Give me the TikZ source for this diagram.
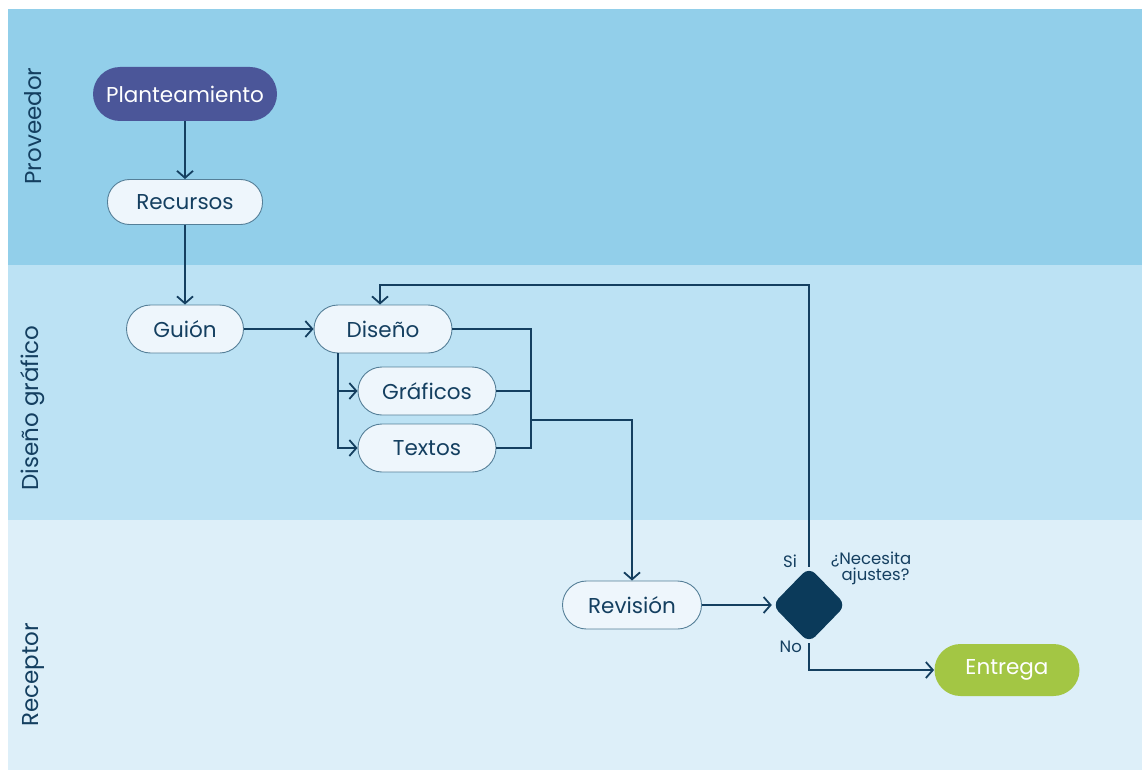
\documentclass[tikz,border=0pt]{standalone}
\usepackage{fontspec}
\setmainfont{Poppins}
\usetikzlibrary{arrows.meta,shapes.geometric,calc}
\definecolor{laneA}{HTML}{92CFEA}
\definecolor{laneB}{HTML}{BCE2F4}
\definecolor{laneC}{HTML}{DDEFF9}
\definecolor{ink}{HTML}{143F60}
\definecolor{boxfill}{HTML}{EEF6FC}
\definecolor{boxline}{HTML}{557F98}
\definecolor{startfill}{HTML}{4B5699}
\definecolor{endfill}{HTML}{A3C644}
\definecolor{decfill}{HTML}{0B3A5A}
\tikzset{
  lanelabel/.style={rotate=90, text=ink, font=\fontsize{23}{26}\selectfont},
  task/.style={draw=boxline, line width=0.9pt, fill=boxfill, text=ink,
    rounded corners=24pt, inner sep=0pt, minimum height=48pt,
    font=\fontsize{21.5}{24}\selectfont},
  terminal/.style={task, draw=none, text=white, rounded corners=27pt, minimum height=54pt},
  flow/.style={draw=ink, line width=1.8pt, -{Straight Barb[length=7pt,width=16pt,line width=1.8pt]}},
  link/.style={draw=ink, line width=1.8pt},
  small/.style={text=ink, font=\fontsize{16.5}{18}\selectfont, inner sep=0pt},
}
\begin{document}
\begin{tikzpicture}[x=1pt,y=-1pt]
  \useasboundingbox (0,0) rectangle (1142,770);
  \fill[white] (0,0) rectangle (1142,770);
  % swim lanes
  \fill[laneA] (8,9) rectangle (1142,265);
  \fill[laneB] (8,265) rectangle (1142,520);
  \fill[laneC] (8,520) rectangle (1142,770);
  \node[lanelabel] (l1) at (33,126) {Proveedor};
  \node[lanelabel] (l2) at (33,408) {Diseño gráfico};
  \node[lanelabel] (l3) at (33,675) {Receptor};

  % activities
  \node[terminal, fill=startfill, minimum width=184pt] (plan) at (185,94) {Planteamiento};
  \node[task, minimum width=155pt, minimum height=45pt, rounded corners=22pt] (rec) at (185,202) {Recursos};
  \node[task, minimum width=117pt] (guion) at (185,329) {Guión};
  \node[task, minimum width=138pt] (dis) at (383,329) {Diseño};
  \node[task, minimum width=138pt] (graf) at (427,391) {Gráficos};
  \node[task, minimum width=138pt] (text) at (427,448) {Textos};
  \node[task, minimum width=139pt] (rev) at (632,605) {Revisión};
  \node[diamond, fill=decfill, rounded corners=9pt, inner sep=0pt,
        minimum width=74pt, minimum height=76pt] (dec) at (809,605) {};
  \node[terminal, fill=endfill, minimum width=145pt, minimum height=52pt, rounded corners=26pt] (ent) at (1007,670) {Entrega};

  % decision labels
  \node[small, anchor=east] (si) at (797,561) {Si};
  \node[small, anchor=east] (no) at (802,647) {No};
  \node[small, align=center] (q) at (871,568) {¿Necesita\\[-2pt]\hspace*{9pt}ajustes?};

  % helper points
  \coordinate (split) at (338,0);
  \coordinate (merge) at (531,420);
  \coordinate (back) at (809,285);

  % connectors
  \draw[flow] (plan) -- (rec);
  \draw[flow] (rec) -- (guion);
  \draw[flow] (guion) -- (dis);
  \draw[flow] (dis.south -| split) |- (graf.west);
  \draw[flow] (dis.south -| split) |- (text.west);
  \draw[link] (dis.east) -| (merge);
  \draw[link] (graf.east) -| (merge);
  \draw[link] (text.east) -| (merge);
  \draw[flow] (merge) -| (rev.north);
  \draw[flow] (rev) -- (dec);
  \draw[flow] (dec.north) -- (back) -| ([xshift=-3pt]dis.north);
  \draw[flow] (dec.south) |- (ent.west);
\end{tikzpicture}
\end{document}
